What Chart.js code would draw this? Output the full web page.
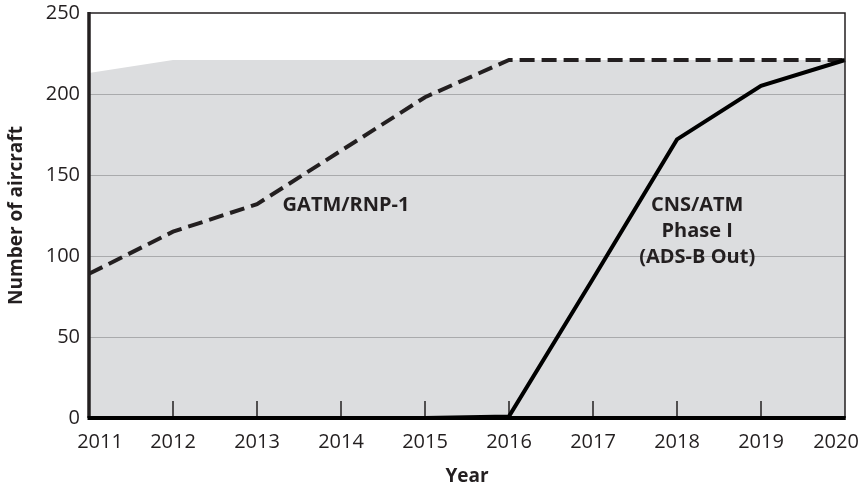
<!DOCTYPE html>
<html>
<head>
<meta charset="utf-8">
<script src="https://cdn.jsdelivr.net/npm/chart.js@4"></script>
<style>
  html, body { margin: 0; padding: 0; background: #fff; }
  #wrap { width: 865px; height: 488px; }
</style>
</head>
<body>
<div id="wrap"><canvas id="myChart" width="865" height="488"></canvas></div>
<script>
// data
const years = ['2011', '2012', '2013', '2014', '2015', '2016', '2017', '2018', '2019', '2020'];
const gatmRnp = [89, 115, 132, 165, 198, 221, 221, 221, 221, 221];
const cnsAtm = [0, 0, 0, 0, 0, 1, 86, 172, 205, 221];
const fleetArea = [213, 221, 221, 221, 221, 221, 221, 221, 221, 221];
const yTicks = [0, 50, 100, 150, 200, 250];

// annotation text: [category index, y value, text]
const notes = [
    [3.06, 131, 'GATM/RNP-1'],
    [7.24, 131, 'CNS/ATM'],
    [7.24, 115, 'Phase I'],
    [7.24, 99.5, '(ADS-B Out)']
];

const FONT = "'Open Sans', 'Noto Sans', sans-serif";

// grid lines drawn above the grey area but below the lines
const gridOverFill = {
    id: 'gridOverFill',
    afterDatasetDraw(chart, args) {
        if (args.index !== 2) return;
        const { ctx, chartArea, scales } = chart;
        ctx.save();
        ctx.strokeStyle = '#a9aaac';
        ctx.lineWidth = 1;
        yTicks.forEach(v => {
            if (v === 0 || v === 250) return;
            const y = Math.round(scales.y.getPixelForValue(v)) + 0.5;
            ctx.beginPath();
            ctx.moveTo(chartArea.left, y);
            ctx.lineTo(chartArea.right, y);
            ctx.stroke();
        });
        // inward tick marks on the x axis
        ctx.strokeStyle = '#231f20';
        ctx.lineWidth = 1.5;
        years.forEach((yr, i) => {
            if (i === 0 || i === years.length - 1) return;
            const x = scales.x.getPixelForValue(i);
            ctx.beginPath();
            ctx.moveTo(x, chartArea.bottom);
            ctx.lineTo(x, chartArea.bottom - 17);
            ctx.stroke();
        });
        ctx.restore();
    }
};

const frameAndNotes = {
    id: 'frameAndNotes',
    afterDraw(chart) {
        const { ctx, chartArea, scales } = chart;
        const { left, right, top, bottom } = chartArea;
        ctx.save();
        ctx.strokeStyle = '#231f20';
        ctx.lineWidth = 1.5;
        ctx.beginPath();
        ctx.moveTo(left, top);
        ctx.lineTo(right, top);
        ctx.lineTo(right, bottom);
        ctx.stroke();
        ctx.lineWidth = 3.5;
        ctx.beginPath();
        ctx.moveTo(left, top - 1);
        ctx.lineTo(left, bottom);
        ctx.stroke();
        ctx.strokeStyle = '#000';
        ctx.lineWidth = 4;
        ctx.beginPath();
        ctx.moveTo(left - 1.5, bottom);
        ctx.lineTo(right + 0.75, bottom);
        ctx.stroke();

        ctx.fillStyle = '#231f20';
        ctx.font = "bold 20px " + FONT;
        ctx.textAlign = 'center';
        ctx.textBaseline = 'middle';
        notes.forEach(n => {
            ctx.fillText(n[2], scales.x.getPixelForValue(n[0]), scales.y.getPixelForValue(n[1]));
        });

        // year labels; the end ones are pulled inside the frame
        ctx.font = "20px " + FONT;
        ctx.textBaseline = 'alphabetic';
        years.forEach((yr, i) => {
            let x = scales.x.getPixelForValue(i);
            if (i === 0) x += 11;
            if (i === years.length - 1) x -= 9;
            ctx.fillText(yr, x, bottom + 30);
        });
        ctx.restore();
    }
};

const ctx = document.getElementById('myChart').getContext('2d');
new Chart(ctx, {
    type: 'line',
    data: {
        labels: years,
        datasets: [
            {
                label: 'CNS/ATM Phase I (ADS-B Out)',
                data: cnsAtm,
                borderColor: '#000',
                borderWidth: 4,
                pointRadius: 0,
                fill: false,
                tension: 0
            },
            {
                label: 'GATM/RNP-1',
                data: gatmRnp,
                borderColor: '#231f20',
                borderWidth: 4,
                borderDash: [15, 7],
                pointRadius: 0,
                fill: false,
                tension: 0
            },
            {
                label: 'Fleet',
                data: fleetArea,
                borderWidth: 0,
                borderColor: 'rgba(0,0,0,0)',
                backgroundColor: '#dcdddf',
                pointRadius: 0,
                fill: 'origin',
                tension: 0
            }
        ]
    },
    options: {
        responsive: false,
        animation: false,
        layout: { padding: { top: 13, right: 20, left: 0, bottom: 0 } },
        plugins: {
            legend: { display: false },
            tooltip: { enabled: false }
        },
        scales: {
            x: {
                offset: false,
                grid: { display: false, drawTicks: false },
                border: { display: false },
                ticks: { display: false },
                title: {
                    display: true,
                    text: 'Year',
                    color: '#231f20',
                    font: { family: FONT, size: 19, weight: 'bold' },
                    padding: { top: 0, bottom: 0 }
                },
                afterFit(scale) {
                    scale.height = 70;
                    scale.paddingLeft = 0;
                    scale.paddingRight = 0;
                }
            },
            y: {
                min: 0,
                max: 250,
                grid: { display: false, drawTicks: false },
                border: { display: false },
                afterBuildTicks(scale) {
                    scale.ticks = yTicks.map(v => ({ value: v }));
                },
                ticks: {
                    color: '#231f20',
                    font: { family: FONT, size: 20 },
                    padding: 9
                },
                title: {
                    display: true,
                    text: 'Number of aircraft',
                    color: '#231f20',
                    font: { family: FONT, size: 19, weight: 'bold' },
                    padding: { top: 5, bottom: 0 }
                },
                afterFit(scale) {
                    scale.width = 89;
                    scale.paddingTop = 0;
                    scale.paddingBottom = 0;
                }
            }
        }
    },
    plugins: [gridOverFill, frameAndNotes]
});
</script>
</body>
</html>
